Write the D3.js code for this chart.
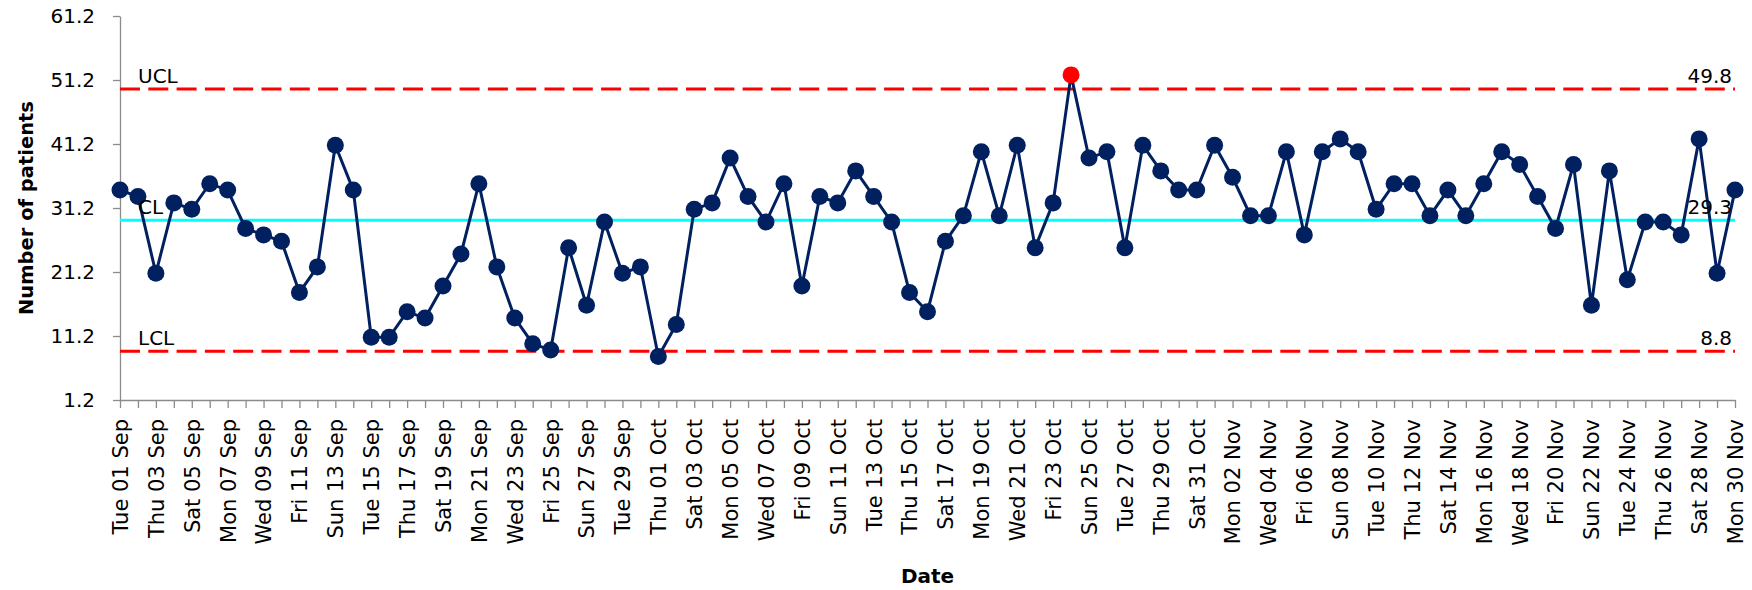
<!DOCTYPE html>
<html>
<head>
<meta charset="utf-8">
<script src="https://cdn.jsdelivr.net/npm/d3@7"></script>
<style>
  body { margin: 0; background: #fff; }
  svg { display: block; }
</style>
</head>
<body>
<div id="chart"></div>
<script>
"use strict";

// daily patient counts, Tue 01 Sep .. Mon 30 Nov
const dates = d3.timeDay.range(new Date(2015, 8, 1), new Date(2015, 11, 1));
const patients = [
    34, 33, 21, 32, 31, 35, 34, 28, 27, 26,
    18, 22, 41, 34, 11, 11, 15, 14, 19, 24,
    35, 22, 14, 10, 9, 25, 16, 29, 21, 22,
    8, 13, 31, 32, 39, 33, 29, 35, 19, 33,
    32, 37, 33, 29, 18, 15, 26, 30, 40, 30,
    41, 25, 32, 52, 39, 40, 25, 41, 37, 34,
    34, 41, 36, 30, 30, 40, 27, 40, 42, 40,
    31, 35, 35, 30, 34, 30, 35, 40, 38, 33,
    28, 38, 16, 37, 20, 29, 29, 27, 42, 21, 34
];
const limitNames = ['UCL', 'CL', 'LCL'];
const limitValues = [49.8, 29.3, 8.8];
const yTicks = [1.2, 11.2, 21.2, 31.2, 41.2, 51.2, 61.2];

const width = 1752, height = 590;
const margin = { left: 120, right: 17, top: 16, bottom: 190 };

const svg = d3.select('#chart').append('svg')
    .attr('width', width).attr('height', height);

const x = d3.scaleTime()
    .domain([dates[0], dates[dates.length - 1]])
    .range([margin.left, width - margin.right]);
const y = d3.scaleLinear()
    .domain([yTicks[0], yTicks[yTicks.length - 1]])
    .range([height - margin.bottom, margin.top]);

const fmt = d3.timeFormat('%a %d %b');

// axes
const xAxis = svg.append('g')
    .attr('transform', `translate(0,${height - margin.bottom})`)
    .call(d3.axisBottom(x)
        .tickValues(dates)
        .tickSize(8)
        .tickSizeOuter(0)
        .tickFormat((d, i) => i % 2 === 0 ? fmt(d) : ''));
xAxis.selectAll('text')
    .attr('transform', 'rotate(-90)')
    .attr('text-anchor', 'end')
    .attr('x', -19)
    .attr('y', 0)
    .attr('dy', '0.35em')
    .style('font-family', 'DejaVu Sans')
    .style('font-size', '21px')
    .style('fill', '#000');

const yAxis = svg.append('g')
    .attr('transform', `translate(${margin.left},0)`)
    .call(d3.axisLeft(y)
        .tickValues(yTicks)
        .tickSize(7)
        .tickPadding(18)
        .tickSizeOuter(0)
        .tickFormat(d3.format('.1f')));
yAxis.selectAll('text')
    .style('font-family', 'DejaVu Sans')
    .style('font-size', '20px')
    .style('fill', '#000');

svg.selectAll('.domain, .tick line')
    .attr('stroke', '#8c8c8c')
    .attr('stroke-width', 1.3);

// control limits
const limits = limitNames.map((n, i) => ({ name: n, value: limitValues[i] }));
svg.selectAll('.limit')
    .data(limits).enter()
    .append('line')
    .attr('class', 'limit')
    .attr('x1', x.range()[0]).attr('x2', x.range()[1])
    .attr('y1', d => y(d.value)).attr('y2', d => y(d.value))
    .attr('stroke', d => d.name === 'CL' ? '#00ffff' : '#ff0000')
    .attr('stroke-width', 3)
    .attr('stroke-dasharray', d => d.name === 'CL' ? null : '20,8.3');

// data
const pts = dates.map((d, i) => ({ date: d, v: patients[i] }));
const line = d3.line().x(d => x(d.date)).y(d => y(d.v));
svg.append('path')
    .datum(pts)
    .attr('d', line)
    .attr('fill', 'none')
    .attr('stroke', '#002060')
    .attr('stroke-width', 3);

svg.selectAll('.dot')
    .data(pts).enter()
    .append('circle')
    .attr('class', 'dot')
    .attr('cx', d => x(d.date))
    .attr('cy', d => y(d.v))
    .attr('r', 8.5)
    .attr('fill', d => d.v > limitValues[0] ? '#ff0000' : '#002060');

// limit labels sit on top of the series
svg.selectAll('.limit-name')
    .data(limits).enter()
    .append('text')
    .attr('x', margin.left + 18)
    .attr('y', d => y(d.value) - 6)
    .style('font-family', 'DejaVu Sans')
    .style('font-size', '20px')
    .text(d => d.name);

svg.selectAll('.limit-value')
    .data(limits).enter()
    .append('text')
    .attr('x', x.range()[1] - 3)
    .attr('y', d => y(d.value) - 6)
    .attr('text-anchor', 'end')
    .style('font-family', 'DejaVu Sans')
    .style('font-size', '20px')
    .text(d => d.value.toFixed(1));

// titles
svg.append('text')
    .attr('transform', `translate(33,${(y.range()[0] + y.range()[1]) / 2}) rotate(-90)`)
    .attr('text-anchor', 'middle')
    .style('font-family', 'DejaVu Sans')
    .style('font-weight', 'bold')
    .style('font-size', '19.5px')
    .text('Number of patients');

svg.append('text')
    .attr('x', (x.range()[0] + x.range()[1]) / 2)
    .attr('y', 583)
    .attr('text-anchor', 'middle')
    .style('font-family', 'DejaVu Sans')
    .style('font-weight', 'bold')
    .style('font-size', '20px')
    .text('Date');
</script>
</body>
</html>
